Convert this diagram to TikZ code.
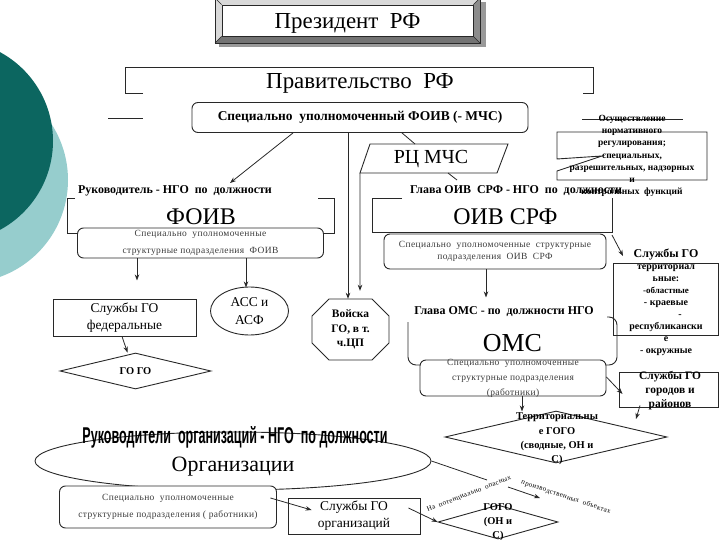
\documentclass[tikz,border=0pt]{standalone}
\usepackage{graphicx}
\usepackage{fontspec}
\setmainfont{Liberation Serif}
\newfontfamily\headfont{Liberation Sans}
\newfontfamily\thinfont[LetterSpace=4]{Liberation Serif}
\newfontfamily\wordart[LetterSpace=5]{Liberation Serif}
\usetikzlibrary{arrows.meta,shapes.geometric,calc}
\definecolor{tealdark}{RGB}{12,102,96}
\definecolor{teallight}{RGB}{150,205,205}
\definecolor{ink}{RGB}{40,40,40}
\definecolor{thinink}{RGB}{60,60,60}
\tikzset{
  boxline/.style={draw=ink, line width=0.9bp},
  arr/.style={draw=ink, line width=0.8bp, -{Stealth[length=6bp,width=4.5bp]}},
  ln/.style={draw=ink, line width=0.8bp},
  rbox/.style={draw=ink, line width=0.9bp, rounded corners=6bp, fill=white, inner sep=0pt},
  sqbox/.style={draw=ink, line width=0.9bp, fill=white, inner sep=0pt},
  subtext/.style={font=\fontsize{9.5}{#1}\selectfont\thinfont, text=thinink, align=center, inner sep=0pt},
  lbl/.style={font=\fontsize{12}{12}\selectfont\bfseries, inner sep=0pt},
  bigtext/.style={anchor=base, inner sep=0pt, font=\fontsize{#1}{#1}\selectfont},
}
\begin{document}
\begin{tikzpicture}[x=1bp,y=-1bp]
\useasboundingbox (0,0) rectangle (720,540);
% background circles
\begin{scope}
\clip (0,0) rectangle (720,540);
\fill[teallight] (-35,180) circle (103bp);
\fill[tealdark] (-48,141) circle (101bp);
\end{scope}

% President (bevelled frame)
\fill[black!40] (219,2) rectangle (486,47);
\fill[black!15] (215,-2) rectangle (480,43);
\fill[black!55] (215,43) -- (480,43) -- (473,36) -- (222,36) -- cycle;
\fill[black!45] (480,-2) -- (480,43) -- (473,36) -- (473,5) -- cycle;
\draw[ink, line width=0.8bp] (215,-2) rectangle (480,43);
\node[sqbox, minimum width=251bp, minimum height=31bp] (presbox) at (347.5,20.5) {};
\draw[ink, line width=0.6bp] (215,43) -- (presbox.south west) (480,43) -- (presbox.south east)
  (480,-2) -- (presbox.north east) (215,-2) -- (presbox.north west);
\node[bigtext=23] (pres) at (347.5,29) {Президент\ \ РФ};

% Government bracket
\draw[boxline] (143,93) -- (125,93) -- (125,67) -- (593,67) -- (593,93) -- (583,93);
\node[bigtext=23] (gov) at (360,89) {Правительство\ \ РФ};
\draw[ln] (108,118) -- (143,118);
\draw[ln] (582,119) -- (683,119);

% Specially authorised FOIV
\node[rbox, minimum width=336bp, minimum height=30bp, font=\fontsize{13.5}{13.5}\selectfont\bfseries] (spec) at (360,117.5)
  {Специально\ \ уполномоченный ФОИВ (- МЧС)};

% callout on the right
\draw[boxline] (557,132) -- (707,132) -- (707,180) -- (557,180) -- (557,171) -- (602,156) -- (557,159) -- cycle;
\node[font=\fontsize{9.5}{12.2}\selectfont\bfseries, align=center, inner sep=0pt] (osu) at (632,156)
  {Осуществление\\нормативного\\регулирования;\\специальных,\\разрешительных, надзорных\\и\\контрольных\ \ функций};

% RC MChS
\draw[boxline] (370,144) -- (508,144) -- (497,173) -- (360,173) -- cycle;
\node[bigtext=20] (rc) at (431,164) {РЦ МЧС};
\coordinate (rctop) at (415,144);
\coordinate (rcbl) at (360,173);
\coordinate (rcbot) at (448,173);
\coordinate (rcstub) at (457,180);
\draw[ln] ($(spec.south)+(42,0)$) -- (rctop);
\draw[ln] (rcbot) -- (rcstub);

% FOIV
\node[lbl] (ruk) at (175,191) {Руководитель - НГО\ \ по\ \ должности};
\coordinate (rukin) at (230,183);
\draw[arr] ($(spec.south)+(-67,0)$) -- (rukin);
\draw[boxline] (75,198) -- (67,198) -- (67,233) -- (78,233);
\draw[boxline] (318,198) -- (334,198) -- (334,233) -- (323,233);
\node[bigtext=24] (foiv) at (201,225) {ФОИВ};
\node[rbox, minimum width=246bp, minimum height=30bp, subtext=17] (foivsub) at (200.5,243)
  {Специально\ \ уполномоченные\\структурные подразделения\ \ ФОИВ};

\node[sqbox, minimum width=143bp, minimum height=37bp, align=center, font=\fontsize{13.5}{17}\selectfont] (sfed) at (124.5,317.5)
  {Службы ГО\\федеральные};
\node[draw=ink, line width=0.9bp, ellipse, fill=white, minimum width=78bp, minimum height=48bp, inner sep=0pt, align=center,
  font=\fontsize{13.5}{18}\selectfont] (asc) at (249.5,311) {АСС и\\АСФ};
\node[draw=ink, line width=0.9bp, diamond, aspect=4.2, minimum width=151bp, minimum height=36bp, inner sep=0pt,
  font=\fontsize{10.5}{10.5}\selectfont\bfseries] (gogo1) at (135.5,371) {ГО ГО};
\draw[arr] ($(foivsub.south)+(-63.5,0)$) -- ++(0,22);
\draw[arr] ($(foivsub.south)+(45.5,0)$) -- ++(0,29);
\draw[arr] ($(sfed.south)+(-2.5,0)$) -- ($(gogo1.north)+(-8,0)$);

% Troops
\draw[boxline, fill=white] (329,299) -- (372,299) -- (389,316) -- (389,343) -- (372,360) -- (329,360) -- (312,343) -- (312,316) -- cycle;
\node[minimum width=77bp, minimum height=61bp, align=center, inner sep=0pt, font=\fontsize{11.5}{14.5}\selectfont\bfseries] (voiska) at (350.5,329.5)
  {Войска\\ГО, в т.\\ч.ЦП};
\draw[arr] ($(spec.south)+(-12,0)$) -- ($(voiska.north)+(-2.5,0)$);
\draw[arr] (rcbl) -- ($(voiska.north)+(9.5,-8)$);

% OIV SRF
\node[lbl] (glavaoiv) at (516,191) {Глава ОИВ\ \ СРФ - НГО\ \ по\ \ должности};
\draw[boxline] (402,198) -- (372,198) -- (372,232) -- (612,232) -- (612,198);
\coordinate (oivcorner) at (612,235);
\node[bigtext=24] (oivsrf) at (505.5,225) {ОИВ СРФ};
\node[rbox, minimum width=222bp, minimum height=35bp, subtext=12.5] (oivsub) at (495,251.5)
  {Специально\ \ уполномоченные\ \ структурные\\подразделения\ \ ОИВ\ \ СРФ};

% territorial services
\draw[boxline] (613,263) rectangle (718,335);
\node[align=center, inner sep=0pt, font=\bfseries] (terr) at (666,302)
  {\fontsize{12}{13.5}\selectfont Службы ГО\\территориал\\ьные:\\
   \fontsize{9}{11.5}\selectfont -областные\\- краевые\\\hspace*{28bp}-\\республикански\\е\\- окружные};
\coordinate (terrin) at (623,256);
\draw[arr] (oivcorner) -- (terrin);

% OMS
\draw[arr] ($(oivsub.south)+(-9,0)$) -- ++(0,28);
\node[lbl] (glavaoms) at (504,312) {Глава ОМС - по\ \ должности НГО};
\draw[boxline, rounded corners=8bp] (408,322) -- (408,365) -- (425,365);
\draw[boxline, rounded corners=8bp] (607,317) -- (617,317) -- (617,365) -- (600,365);
\node[bigtext=26] (oms) at (512.5,351) {ОМС};
\node[rbox, minimum width=186bp, minimum height=36bp] (omssub) at (513,378) {};
\node[subtext=15] (omssubT) at (513,378) {Специально\ \ уполномоченные\\структурные подразделения\\(работники)};

\node[sqbox, minimum width=99bp, minimum height=35bp] (gorod) at (668.5,389.5) {};
\node[align=center, inner sep=0pt, font=\fontsize{11.5}{14}\selectfont\bfseries] (gorodT) at (670,391) {Службы ГО\\городов и\\районов};
\draw[arr] ($(omssub.east)+(0,-1)$) -- ($(gorod.west)+(4,4.5)$);
\coordinate (tgin) at (636,419);
\draw[arr] ($(gorod.south)+(-28.5,-2)$) -- (tgin);

% territorial GOGO
\draw[arr] ($(omssub.south)+(9,0)$) -- ++(0,15);
\node[draw=ink, line width=0.9bp, diamond, aspect=4.3, minimum width=222bp, minimum height=52bp, inner sep=0pt] (tgogo) at (556,437) {};
\node[align=center, inner sep=0pt, font=\fontsize{10.5}{14.5}\selectfont\bfseries] (tgogoT) at (557,439)
  {Территориальны\\е ГОГО\\(сводные, ОН и\\С)};

% Organisations
\node[draw=ink, line width=0.9bp, ellipse, minimum width=396bp, minimum height=58bp, inner sep=0pt] (org) at (233,461) {};
\node[anchor=base, inner sep=0pt] (orghead) at (235,443)
  {\resizebox{305bp}{17bp}{\headfont\bfseries Руководители\ \ организаций - НГО\ \ по должности}};
\node[bigtext=22] (orgname) at (233,471) {Организации};
\coordinate (orgline) at (487,480);
\draw[ln] (org.east) -- (orgline);
\node[rbox, minimum width=217bp, minimum height=42bp, subtext=17] (orgsub) at (168,507)
  {Специально\ \ уполномоченные\\структурные подразделения ( работники)};
\node[sqbox, minimum width=132bp, minimum height=36bp, align=center, font=\fontsize{13.5}{17}\selectfont] (sorg) at (354,516)
  {Службы ГО\\организаций};
\draw[arr] ($(orgsub.east)+(-6.5,-9)$) -- ($(sorg.west)+(24,-6)$);

% dangerous objects
\node[rotate=21, inner sep=0pt, font=\fontsize{7}{7}\selectfont\wordart] (onpo1) at (469,494) {На\ \ потенциально\ \ опасных};
\node[rotate=-18.5, inner sep=0pt, font=\fontsize{7}{7}\selectfont\wordart] (onpo2) at (566,497) {производственных\ \ объектах};
\coordinate (dA) at (508,487);
\coordinate (dB) at (540,498);
\draw[arr] (dA) -- (dB);
\node[draw=ink, line width=0.9bp, diamond, aspect=3.5, minimum width=120bp, minimum height=34bp, inner sep=0pt] (gogo2) at (498,522) {};
\node[align=center, inner sep=0pt, font=\fontsize{10.5}{14}\selectfont\bfseries] (gogo2T) at (498,522) {ГОГО\\(ОН и\\С)};
\draw[arr] ($(sorg.east)+(-12,-8)$) -- (gogo2.west);
\end{tikzpicture}
\end{document}
